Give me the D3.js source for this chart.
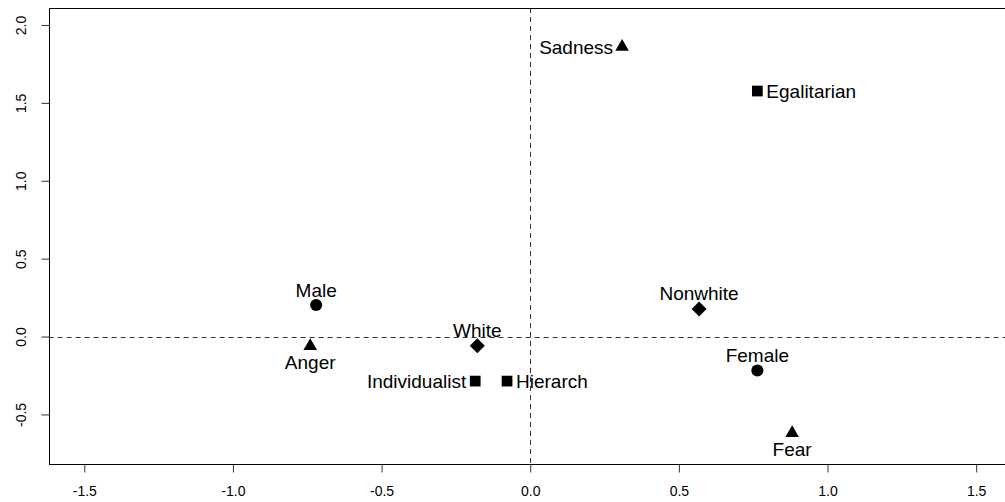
<!DOCTYPE html>
<html>
<head>
<meta charset="utf-8">
<script src="https://cdn.jsdelivr.net/npm/d3@7"></script>
<style>
  html, body { margin: 0; padding: 0; background: #fff; }
  svg { display: block; font-family: "Liberation Sans", Arial, Helvetica, sans-serif; }
</style>
</head>
<body>
<svg id="chart" width="1005" height="502"></svg>
<script>
// ---- data ----
const labels = ["Sadness", "Egalitarian", "Male", "Anger", "White", "Individualist", "Hierarch", "Nonwhite", "Female", "Fear"];
const xValues = [0.309, 0.764, -0.720, -0.740, -0.178, -0.185, -0.078, 0.568, 0.764, 0.881];
const yValues = [1.859, 1.576, 0.202, -0.061, -0.059, -0.286, -0.286, 0.177, -0.218, -0.620];
const groups = ["emotion", "culture", "gender", "emotion", "race", "culture", "culture", "race", "gender", "emotion"];
const labelSide = ["left", "right", "above", "below", "above", "left", "right", "above", "above", "below"];
const xTicks = [-1.5, -1.0, -0.5, 0.0, 0.5, 1.0, 1.5];
const yTicks = [-0.5, 0.0, 0.5, 1.0, 1.5, 2.0];
const xDomain = [-1.62, 1.62];
const yDomain = [-0.815, 2.109];

// ---- layout ----
const svg = d3.select("#chart");
const plotLeft = 48.6, plotTop = 8, plotBottom = 463.5;
const plotRight = plotLeft + (xDomain[1] - xDomain[0]) * 297.3;

const x = d3.scaleLinear().domain(xDomain).range([plotLeft, plotRight]);
const y = d3.scaleLinear().domain(yDomain).range([plotBottom, plotTop]);
const fmt = v => d3.format(".1f")(v).replace("\u2212", "-");

// reference lines
svg.append("line")
  .attr("x1", plotLeft).attr("x2", plotRight)
  .attr("y1", Math.round(y(0)) + 0.5).attr("y2", Math.round(y(0)) + 0.5)
  .attr("stroke", "#333").attr("stroke-width", 1).attr("stroke-dasharray", "5,4");
svg.append("line")
  .attr("x1", Math.round(x(0)) + 0.5).attr("x2", Math.round(x(0)) + 0.5)
  .attr("y1", plotTop).attr("y2", plotBottom)
  .attr("stroke", "#333").attr("stroke-width", 1).attr("stroke-dasharray", "5,4");

// box
svg.append("rect")
  .attr("x", Math.round(plotLeft) + 0.5).attr("y", plotTop + 0.5)
  .attr("width", plotRight - plotLeft).attr("height", Math.round(plotBottom) - plotTop)
  .attr("fill", "none").attr("stroke", "#000").attr("stroke-width", 1);

// axes
const xAxis = d3.axisBottom(x).tickValues(xTicks).tickFormat(fmt).tickSize(8).tickPadding(14);
const gx = svg.append("g").attr("transform", `translate(0,${Math.round(plotBottom) + 0.5})`).call(xAxis);
gx.select(".domain").remove();
gx.selectAll("line").attr("stroke", "#333");
gx.selectAll("text").attr("font-size", 14).attr("fill", "#000").attr("font-family", "Liberation Sans, Arial, sans-serif");

const yAxis = d3.axisLeft(y).tickValues(yTicks).tickFormat(fmt).tickSize(8);
const gy = svg.append("g").attr("transform", `translate(${Math.round(plotLeft) + 0.5},0)`).call(yAxis);
gy.select(".domain").remove();
gy.selectAll("line").attr("stroke", "#333");
gy.selectAll("text")
  .attr("font-size", 14).attr("fill", "#000").attr("font-family", "Liberation Sans, Arial, sans-serif")
  .attr("x", null).attr("dy", null)
  .attr("text-anchor", "middle")
  .attr("transform", "translate(-28,0) rotate(-90)")
  .attr("y", 0).attr("dy", "0.35em");

// markers
const symbolFor = {
  emotion: d3.symbol().type(d3.symbolTriangle).size(80),
  culture: d3.symbol().type(d3.symbolSquare).size(115),
  gender: d3.symbol().type(d3.symbolCircle).size(115),
  race: d3.symbol().type(d3.symbolSquare).size(112)
};
const pts = labels.map((l, i) => ({ label: l, x: xValues[i], y: yValues[i], g: groups[i], side: labelSide[i] }));

svg.append("g").selectAll("path").data(pts).join("path")
  .attr("d", d => symbolFor[d.g]())
  .attr("transform", d => {
    const t = `translate(${x(d.x)},${y(d.y)})`;
    return d.g === "race" ? t + " rotate(45)" : t;
  })
  .attr("fill", "#000");

// labels
const off = 9, cap = 13.5;
svg.append("g").selectAll("text").data(pts).join("text")
  .text(d => d.label)
  .attr("font-size", 19)
  .attr("fill", "#000")
  .attr("x", d => d.side === "left" ? x(d.x) - off : d.side === "right" ? x(d.x) + off : x(d.x))
  .attr("y", d => d.side === "above" ? y(d.y) - 8.5 : d.side === "below" ? y(d.y) + 9 + cap : y(d.y) + cap / 2)
  .attr("text-anchor", d => d.side === "left" ? "end" : d.side === "right" ? "start" : "middle");
</script>
</body>
</html>
